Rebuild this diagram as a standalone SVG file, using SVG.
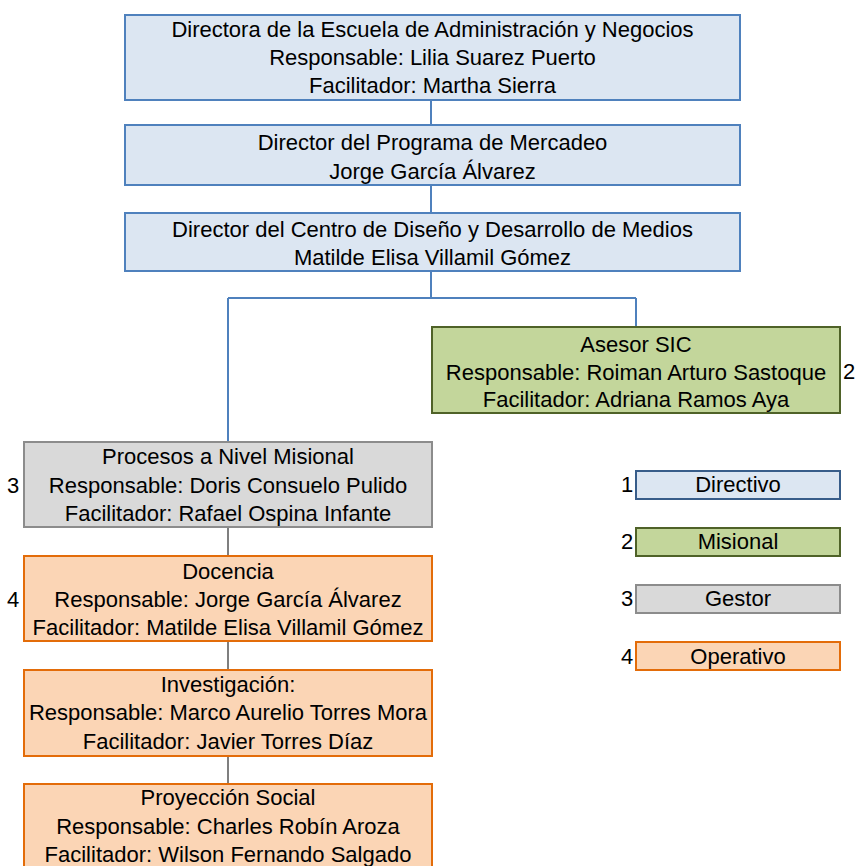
<svg xmlns="http://www.w3.org/2000/svg" width="856" height="866" viewBox="0 0 856 866">
  <style>
    text { font-family: "Liberation Sans", Arial, sans-serif; font-size: 22px; fill: #000; text-anchor: middle; }
    .dir { fill: #DCE6F2; stroke: #4F81BD; stroke-width: 2; }
    .dirLeg { fill: #DCE6F2; stroke: #385D8A; stroke-width: 2; }
    .mis { fill: #C3D69B; stroke: #4F6228; stroke-width: 2; }
    .ges { fill: #D9D9D9; stroke: #8C8C8C; stroke-width: 2; }
    .ope { fill: #FBD5B5; stroke: #E36C09; stroke-width: 2; }
    .blue { fill: none; stroke: #4F81BD; stroke-width: 2; }
    .gray { fill: none; stroke: #7F7F7F; stroke-width: 2; }
  </style>

  <!-- connectors -->
  <g id="connectors">
    <path class="blue" d="M431 100 V125 M431 185 V213 M431 271 V298 M228 298 H636 M636 298 V327 M228 298 V442"/>
    <path class="gray" d="M228 527 V556 M228 641 V670 M228 756 V784"/>
  </g>

  <g id="directora">
    <rect class="dir" x="125" y="15" width="615" height="85"/>
    <text x="432.5" y="37">Directora de la Escuela de Administración y Negocios</text>
    <text x="432.5" y="65">Responsable: Lilia Suarez Puerto</text>
    <text x="432.5" y="93">Facilitador: Martha Sierra</text>
  </g>

  <g id="mercadeo">
    <rect class="dir" x="125" y="125" width="615" height="60"/>
    <text x="432.5" y="150">Director del Programa de Mercadeo</text>
    <text x="432.5" y="179">Jorge García Álvarez</text>
  </g>

  <g id="centro-diseno">
    <rect class="dir" x="125" y="213" width="615" height="58"/>
    <text x="432.5" y="237">Director del Centro de Diseño y Desarrollo de Medios</text>
    <text x="432.5" y="265">Matilde Elisa Villamil Gómez</text>
  </g>

  <g id="asesor-sic">
    <rect class="mis" x="432" y="327" width="408" height="86"/>
    <text x="636" y="352">Asesor SIC</text>
    <text x="636" y="380">Responsable: Roiman Arturo Sastoque</text>
    <text x="636" y="407">Facilitador: Adriana Ramos Aya</text>
    <text x="849" y="379">2</text>
  </g>

  <g id="procesos">
    <rect class="ges" x="24" y="442" width="408" height="85"/>
    <text x="228" y="464">Procesos a Nivel Misional</text>
    <text x="228" y="493">Responsable: Doris Consuelo Pulido</text>
    <text x="228" y="521">Facilitador: Rafael Ospina Infante</text>
    <text x="13" y="493">3</text>
  </g>

  <g id="docencia">
    <rect class="ope" x="24" y="556" width="408" height="85"/>
    <text x="228" y="579">Docencia</text>
    <text x="228" y="607">Responsable: Jorge García Álvarez</text>
    <text x="228" y="635">Facilitador: Matilde Elisa Villamil Gómez</text>
    <text x="13" y="607">4</text>
  </g>

  <g id="investigacion">
    <rect class="ope" x="24" y="670" width="408" height="86"/>
    <text x="228" y="692">Investigación:</text>
    <text x="228" y="720">Responsable: Marco Aurelio Torres Mora</text>
    <text x="228" y="749">Facilitador: Javier Torres Díaz</text>
  </g>

  <g id="proyeccion">
    <rect class="ope" x="24" y="784" width="408" height="86"/>
    <text x="228" y="805">Proyección Social</text>
    <text x="228" y="834">Responsable: Charles Robín Aroza</text>
    <text x="228" y="862">Facilitador: Wilson Fernando Salgado</text>
  </g>

  <!-- legend -->
  <g id="legend-directivo">
    <rect class="dirLeg" x="636" y="471" width="204" height="28"/>
    <text x="738" y="492">Directivo</text>
    <text x="627" y="492">1</text>
  </g>
  <g id="legend-misional">
    <rect class="mis" x="636" y="528" width="204" height="28"/>
    <text x="738" y="549">Misional</text>
    <text x="627" y="549">2</text>
  </g>
  <g id="legend-gestor">
    <rect class="ges" x="636" y="585" width="204" height="28"/>
    <text x="738" y="606">Gestor</text>
    <text x="627" y="606">3</text>
  </g>
  <g id="legend-operativo">
    <rect class="ope" x="636" y="642" width="204" height="28"/>
    <text x="738" y="664">Operativo</text>
    <text x="627" y="664">4</text>
  </g>
</svg>
